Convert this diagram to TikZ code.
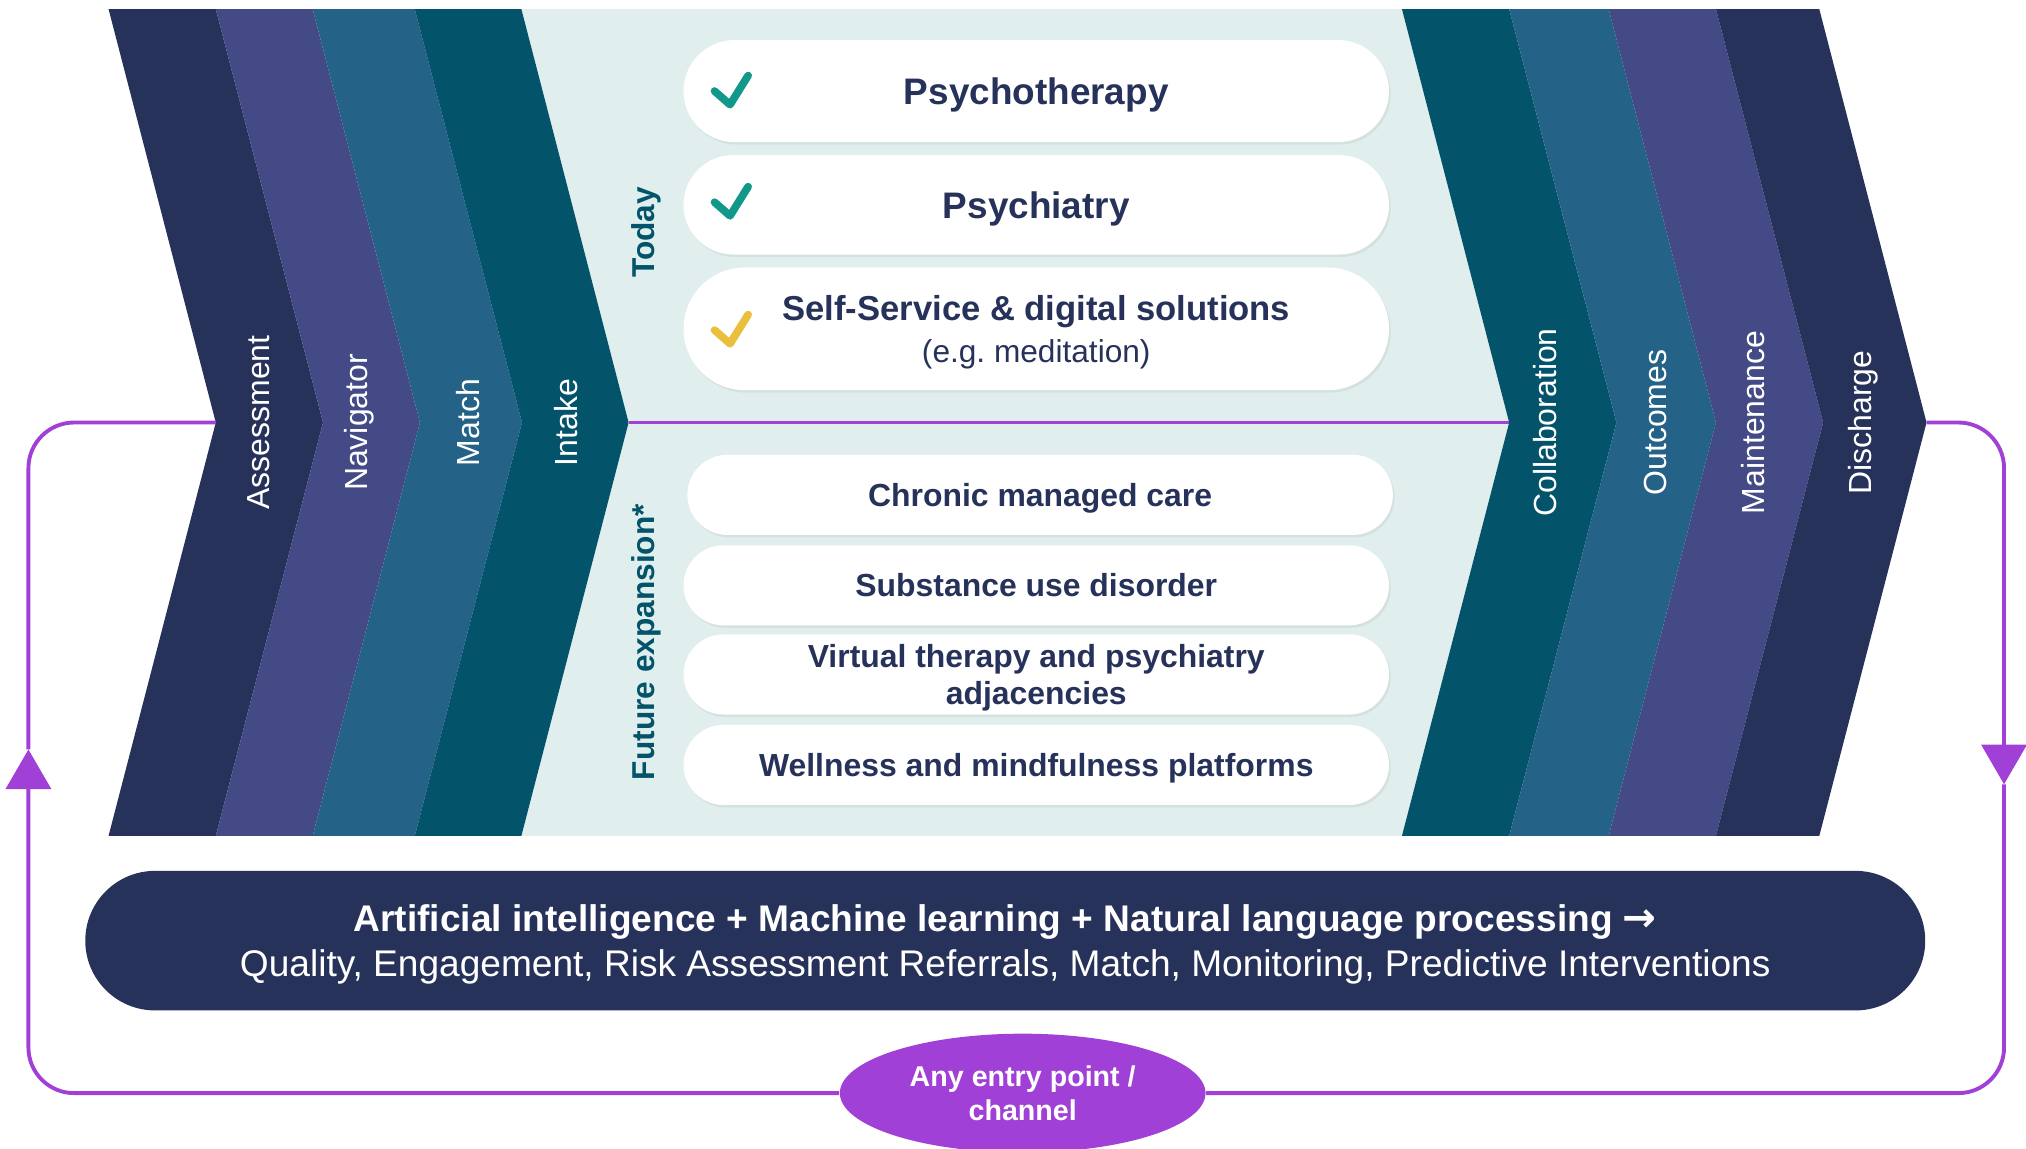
\documentclass[tikz,border=0pt]{standalone}
\usepackage{fontspec}
\setmainfont{Liberation Sans}
\newfontfamily\arrowfont{DejaVu Sans}
\usetikzlibrary{positioning,shapes.geometric,shapes.misc,shadows,arrows.meta}

\definecolor{navyA}{HTML}{27325A}
\definecolor{purpB}{HTML}{434A86}
\definecolor{blueC}{HTML}{256287}
\definecolor{tealD}{HTML}{03536A}
\definecolor{panel}{HTML}{E0EFED}
\definecolor{loopc}{HTML}{A040D6}
\definecolor{tickteal}{HTML}{12988B}
\definecolor{tickgold}{HTML}{E9BF3B}

\newlength{\px}
\setlength{\px}{0.12921mm}
\newlength{\lw}
\setlength{\lw}{1.1pt}

\tikzstyle{every picture}+=[x=\px, y=-\px]
\tikzstyle{every picture}+=[line join=round]
\tikzstyle{stage}+=[text=white, rotate=90, inner sep=0pt]
\tikzstyle{stage}+=[font=\fontsize{9.1}{11}\selectfont]
\tikzstyle{grouplabel}+=[text=tealD, rotate=90, inner sep=0pt]
\tikzstyle{grouplabel}+=[font=\bfseries\fontsize{9.0}{10}\selectfont]
\tikzstyle{pill}+=[rounded rectangle, fill=white, text=navyA, align=center]
\tikzstyle{pill}+=[minimum width=546\px, inner sep=0pt, outer sep=0pt, text depth=0pt]
\tikzstyle{pill}+=[drop shadow={shadow xshift=0.5pt, shadow yshift=-0.7pt, opacity=0.12}]
\tikzstyle{nowpill}+=[pill, font=\bfseries\fontsize{10.5}{12.5}\selectfont]
\tikzstyle{nextpill}+=[pill, minimum height=62\px]
\tikzstyle{nextpill}+=[font=\bfseries\fontsize{9.08}{10.7}\selectfont]
\tikzstyle{aibar}+=[rounded rectangle, fill=navyA, text=white, align=center]
\tikzstyle{aibar}+=[minimum width=1424\px, minimum height=108\px, inner sep=0pt, text depth=0pt]
\tikzstyle{aibar}+=[font=\fontsize{10.55}{12.9}\selectfont]
\tikzstyle{entry}+=[ellipse, fill=loopc, text=white, align=center, inner sep=0pt]
\tikzstyle{entry}+=[minimum width=283\px, minimum height=92\px]
\tikzstyle{entry}+=[font=\bfseries\fontsize{8.15}{9.6}\selectfont]
\tikzstyle{loopline}+=[draw=loopc, line width=\lw, rounded corners=13pt]
\tikzstyle{looptip}+=[-{Triangle[width=12.8pt, length=11.3pt]}]

\tikzset{checkmark/.pic={
  \draw[#1, line width=2.2pt, line cap=round, line join=round]
    (-13,0) -- (-1,10.5) -- (13,-12);
}}

\begin{document}
\begin{tikzpicture}
\useasboundingbox (0,0) rectangle (1568,889);

% light middle panel
\fill[panel] (403.5,7) -- (1085,7) -- (1168,327) -- (1085,647)
  -- (403.5,647) -- (486.5,327) -- cycle;

% chevrons
\foreach \id/\xl/\xr/\col/\txt/\tx in {
    asm/84/167/navyA/Assessment/200,
    nav/167/242/purpB/Navigator/278,
    mat/242/321/blueC/Match/362,
    itk/321/403.5/tealD/Intake/438,
    col/1085/1168/tealD/Collaboration/1196,
    out/1168/1245/blueC/Outcomes/1281,
    mnt/1245/1328/purpB/Maintenance/1357,
    dis/1328/1408/navyA/Discharge/1442}
{
  \fill[\col] (\xl,7) -- (\xr,7) -- (\xr+83,327) -- (\xr,647)
    -- (\xl,647) -- (\xl+83,327) -- cycle;
  \coordinate (\id-notch) at (\xl+83,327);
  \coordinate (\id-tip) at (\xr+83,327);
  \node[stage] (\id) at (\tx,327) {\txt};
}

% today
\node[nowpill, minimum height=79\px] (psy) at (802,70.5) {Psychotherapy};
\node[nowpill, minimum height=77\px, below=10\px of psy] (pst) {Psychiatry};
\node[nowpill, minimum height=95\px, below=10\px of pst,
  font=\bfseries\fontsize{9.85}{11}\selectfont] (self)
  {Self-Service \& digital solutions\\[1pt]
   {\mdseries\fontsize{9}{11}\selectfont (e.g.\ meditation)}};
\pic at ([xshift=37\px]psy.west) {checkmark=tickteal};
\pic at ([xshift=37\px, yshift=2\px]pst.west) {checkmark=tickteal};
\pic at ([xshift=37\px, yshift=-1\px]self.west) {checkmark=tickgold};

% future expansion
\node[nextpill] (chr) at (805,383) {Chronic managed care};
\node[nextpill, below=8\px of chr, xshift=-3\px] (sud) {Substance use disorder};
\node[nextpill, below=7\px of sud] (vtp) {Virtual therapy and psychiatry\\adjacencies};
\node[nextpill, below=8\px of vtp] (wmp) {Wellness and mindfulness platforms};

\node[grouplabel] (today) at (500,180) {Today};
\node[grouplabel] (future) at (500,497) {Future expansion*};

% AI bar
\node[aibar] (ai) at (778,728)
  {\textbf{Artificial intelligence + Machine learning + Natural language processing {\arrowfont\bfseries\fontsize{11.5}{12.9}\selectfont →}}\\
   Quality, Engagement, Risk Assessment Referrals, Match, Monitoring, Predictive Interventions};

% entry loop
\node[entry] (entry) at (791.5,846) {Any entry point /\\channel};
\coordinate (up) at (22,580);
\coordinate (down) at (1551,607);

\draw[loopline] (itk-tip) -- (col-notch);
\draw[loopline, looptip] (entry.west) -| (up);
\draw[loopline] (up) |- (asm-notch);
\draw[loopline, looptip] (dis-tip) -| (down);
\draw[loopline] (down) |- (entry.east);
\end{tikzpicture}
\end{document}
